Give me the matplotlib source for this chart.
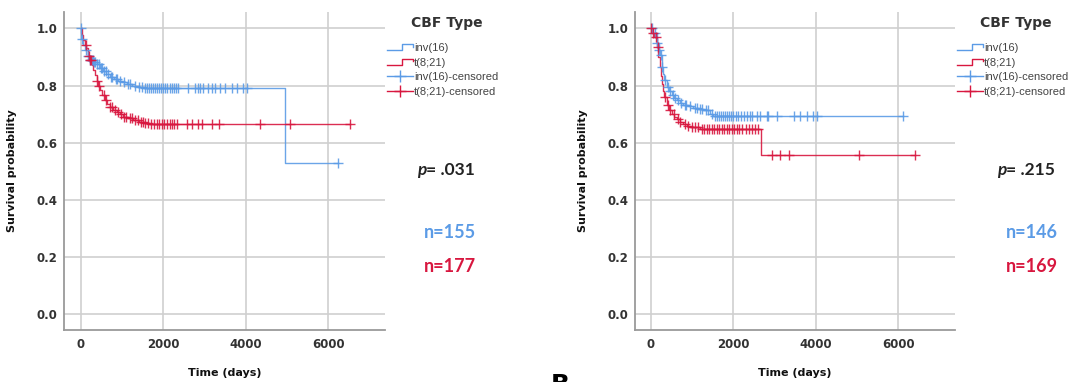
import numpy as np
import matplotlib.pyplot as plt
from matplotlib.lines import Line2D
from matplotlib.legend_handler import HandlerBase

BLUE = '#5b9be6'
RED = '#d8173f'
GRID = '#cfcfcf'
SPINE = '#9a9a9a'
TICK_TXT = '#333333'

# ---- Panel A: Kaplan-Meier estimates ----
a_inv16_times = [0, 10, 60, 100, 160, 220, 300, 380, 460, 540, 620, 700, 800,
                 900, 1000, 1110, 1250, 1380, 1520, 4960]
a_inv16_surv = [1.0, 0.962, 0.942, 0.923, 0.905, 0.889, 0.881, 0.874, 0.863,
                0.850, 0.840, 0.831, 0.824, 0.817, 0.812, 0.806, 0.800, 0.795,
                0.790, 0.528]
a_inv16_cens = [0, 15, 120, 170, 230, 260, 290, 320, 350, 400, 430, 480, 510,
                560, 600, 650, 720, 760, 840, 870, 950, 1050, 1150, 1200, 1300,
                1420, 1480, 1560, 1600, 1650, 1700, 1750, 1800, 1850, 1900,
                1950, 2000, 2050, 2100, 2150, 2200, 2250, 2300, 2350, 2610,
                2780, 2840, 2890, 2970, 3090, 3180, 3260, 3380, 3500, 3660,
                3780, 3940, 4040, 6240]

a_t821_times = [0, 30, 60, 100, 130, 180, 220, 260, 300, 340, 380, 410, 460,
                520, 580, 640, 700, 780, 870, 950, 1030, 1150, 1270, 1400,
                1520, 1650, 1760]
a_t821_surv = [1.0, 0.975, 0.958, 0.942, 0.930, 0.905, 0.890, 0.872, 0.855,
               0.837, 0.815, 0.800, 0.784, 0.766, 0.749, 0.737, 0.726, 0.716,
               0.708, 0.700, 0.691, 0.685, 0.679, 0.674, 0.670, 0.667, 0.664]
a_t821_cens = [120, 190, 230, 250, 400, 440, 560, 600, 700, 760, 820, 900,
               960, 1040, 1100, 1180, 1250, 1320, 1380, 1450, 1500, 1560, 1620,
               1700, 1780, 1850, 1900, 1960, 2020, 2080, 2150, 2200, 2260,
               2330, 2570, 2690, 2850, 2930, 3180, 3360, 4350, 5080, 6540]

# ---- Panel B ----
b_inv16_times = [0, 65, 145, 190, 226, 266, 300, 323, 388, 450, 509, 570, 630,
                 700, 791, 900, 1033, 1150, 1276, 1437, 1518]
b_inv16_surv = [1.0, 0.982, 0.947, 0.925, 0.906, 0.865, 0.840, 0.819, 0.795,
                0.780, 0.766, 0.757, 0.749, 0.740, 0.731, 0.727, 0.723, 0.718,
                0.713, 0.702, 0.694]
b_inv16_cens = [40, 100, 160, 200, 240, 280, 350, 420, 480, 540, 600, 660, 740,
                820, 860, 950, 1080, 1120, 1200, 1250, 1330, 1380, 1480, 1560,
                1600, 1650, 1700, 1760, 1800, 1850, 1900, 1950, 2000, 2060,
                2120, 2180, 2250, 2330, 2400, 2450, 2570, 2650, 2810, 2850,
                3050, 3460, 3620, 3780, 3940, 4020, 6120]

b_t821_times = [0, 40, 89, 145, 186, 226, 250, 266, 300, 323, 388, 450, 509,
                570, 630, 700, 791, 870, 953, 1195, 2672]
b_t821_surv = [1.0, 0.985, 0.971, 0.936, 0.901, 0.865, 0.835, 0.807, 0.780,
               0.760, 0.731, 0.715, 0.702, 0.690, 0.682, 0.674, 0.667, 0.660,
               0.655, 0.649, 0.556]
b_t821_cens = [0, 60, 120, 170, 340, 420, 480, 560, 650, 720, 820, 900, 1000,
               1080, 1150, 1240, 1300, 1360, 1420, 1480, 1540, 1600, 1660,
               1720, 1780, 1840, 1900, 1960, 2020, 2080, 2150, 2220, 2300,
               2380, 2450, 2530, 2600, 2930, 3130, 3340, 5050, 6390]

panels = [
    dict(rect=[0.0595, 0.136, 0.297, 0.8325], xlim=(-405, 7380),
         inv=(a_inv16_times, a_inv16_surv, a_inv16_cens),
         t821=(a_t821_times, a_t821_surv, a_t821_cens),
         p_text='= .031', n_inv='n=155', n_t821='n=177',
         p_x=417, n_x=450, leg_x=387, title_x=447),
    dict(rect=[0.5882, 0.136, 0.296, 0.8325], xlim=(-373, 7368),
         inv=(b_inv16_times, b_inv16_surv, b_inv16_cens),
         t821=(b_t821_times, b_t821_surv, b_t821_cens),
         p_text='= .215', n_inv='n=146', n_t821='n=169',
         p_x=997, n_x=1032, leg_x=957, title_x=1016),
]

legend_labels = ['inv(16)', 't(8;21)', 'inv(16)-censored', 't(8;21)-censored']


class StepHandler(HandlerBase):
    """Little step icon used for the survival-function entries."""
    def create_artists(self, legend, orig_handle, xdescent, ydescent,
                       width, height, fontsize, trans):
        lo = -ydescent + 0.15 * height
        hi = -ydescent + 0.85 * height
        xs = [-xdescent, -xdescent + 0.6 * width, -xdescent + 0.6 * width,
              -xdescent + width, -xdescent + width]
        ys = [lo, lo, hi, hi, hi - 0.3 * height]
        line = Line2D(xs, ys, color=orig_handle.get_color(), lw=1.0,
                      transform=trans)
        return [line]


def surv_at(times, surv, t):
    idx = np.searchsorted(times, t, side='right') - 1
    return np.asarray(surv)[idx]


def fx(px):
    return px / 1080.0


def fy(py):
    return 1.0 - py / 382.0


fig = plt.figure(figsize=(10.8, 3.82), dpi=100)

for p in panels:
    ax = fig.add_axes(p['rect'])
    handles = []
    for (times, surv, cens), color in ((p['inv'], BLUE), (p['t821'], RED)):
        end_t = max(cens[-1], times[-1])
        xs = list(times) + [end_t]
        ys = list(surv) + [surv[-1]]
        ln, = ax.step(xs, ys, where='post', color=color, lw=1.0, alpha=0.9,
                      zorder=3)
        ax.plot(cens, surv_at(times, surv, cens), ls='none', marker='+',
                ms=6.5, mew=1.0, color=color, alpha=0.9, zorder=4)
        handles.append(ln)

    ax.set_xlim(*p['xlim'])
    ax.set_ylim(-0.055, 1.057)
    ax.set_xticks([0, 2000, 4000, 6000])
    ax.set_yticks([0.0, 0.2, 0.4, 0.6, 0.8, 1.0])
    ax.set_yticklabels(['0.0', '0.2', '0.4', '0.6', '0.8', '1.0'])
    ax.grid(True, color=GRID, lw=1.2)
    ax.set_axisbelow(True)
    for side in ('top', 'right'):
        ax.spines[side].set_visible(False)
    for side in ('left', 'bottom'):
        ax.spines[side].set_color(SPINE)
        ax.spines[side].set_linewidth(1.3)
    ax.tick_params(length=0, labelsize=8.5, colors=TICK_TXT)
    ax.tick_params(axis='y', pad=5)
    ax.tick_params(axis='x', pad=6)
    for lbl in ax.get_xticklabels() + ax.get_yticklabels():
        lbl.set_fontweight('bold')

    ax.set_ylabel('Survival probability', fontsize=8, fontweight='bold',
                  color='#111111')
    ax.yaxis.set_label_coords(-0.147, 0.5)
    ax.set_xlabel('Time (days)', fontsize=8, fontweight='bold',
                  color='#111111', va='center')
    ax.xaxis.set_label_coords(0.5, -0.135)

    # legend
    cens_handles = [Line2D([], [], color=BLUE, marker='+', ms=9, mew=1.0,
                           lw=1.0),
                    Line2D([], [], color=RED, marker='+', ms=9, mew=1.0,
                           lw=1.0)]
    leg = ax.legend(handles + cens_handles, legend_labels,
                    loc='upper left', bbox_to_anchor=(fx(p['leg_x']), fy(43)),
                    bbox_transform=fig.transFigure, frameon=False,
                    borderpad=0, borderaxespad=0, handlelength=2.3,
                    handletextpad=0.15, labelspacing=0.42,
                    prop={'family': 'Liberation Sans', 'size': 8},
                    handler_map={handles[0]: StepHandler(),
                                 handles[1]: StepHandler()})
    for t in leg.get_texts():
        t.set_color('#444444')
    fig.text(fx(p['title_x']), fy(23), 'CBF Type', ha='center', va='center',
             fontsize=10, fontweight='bold', color='#333333',
             family='DejaVu Sans')

    # test statistic and group sizes
    ptxt = fig.text(fx(p['p_x']), fy(170), 'p', ha='left', va='center',
                    fontsize=12.5, fontweight='bold', fontstyle='italic',
                    color='#222222', family='Lato')
    ax.annotate(p['p_text'], xy=(1, 0), xycoords=ptxt, ha='left',
                va='bottom', fontsize=12.5, fontweight='bold',
                color='#222222', family='Lato', annotation_clip=False)
    fig.text(fx(p['n_x']), fy(232), p['n_inv'], ha='center', va='center',
             fontsize=13, fontweight='bold', color=BLUE, family='Lato')
    fig.text(fx(p['n_x']), fy(266), p['n_t821'], ha='center', va='center',
             fontsize=13, fontweight='bold', color=RED, family='Lato')

fig.text(fx(560), fy(373), 'B', ha='center', va='top', fontsize=18,
         fontweight='bold', color='black')

fig.savefig('out.png', dpi=100)
